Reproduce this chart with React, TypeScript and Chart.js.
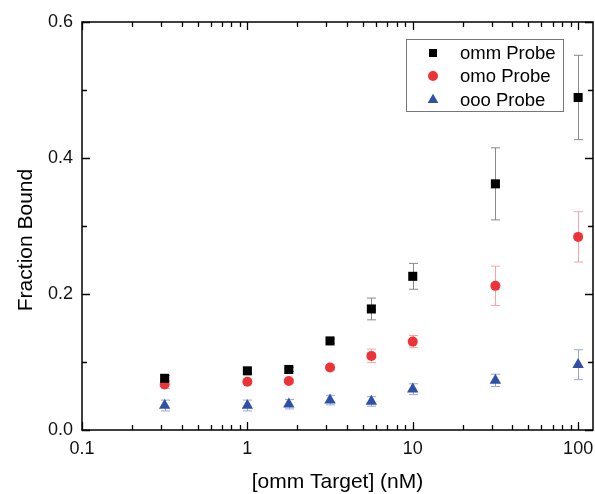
import React, { useEffect, useRef } from "react";
import { Chart, registerables } from "chart.js";

Chart.register(...registerables);

const concentrations = [0.316, 1, 1.78, 3.16, 5.62, 10, 31.6, 100];
const ommValues = [0.076, 0.087, 0.089, 0.131, 0.178, 0.226, 0.362, 0.489];
const ommErrors = [0.004, 0.004, 0.003, 0.003, 0.016, 0.019, 0.053, 0.062];
const omoValues = [0.067, 0.071, 0.072, 0.092, 0.109, 0.13, 0.212, 0.284];
const omoErrors = [0.006, 0.003, 0.003, 0.004, 0.01, 0.009, 0.029, 0.037];
const oooValues = [0.036, 0.036, 0.038, 0.044, 0.042, 0.06, 0.073, 0.096];
const oooErrors = [0.008, 0.008, 0.007, 0.007, 0.007, 0.008, 0.009, 0.022];
const seriesLabels = ["omm Probe", "omo Probe", "ooo Probe"];
const xTickValues = [0.1, 1, 10, 100];
const xTickLabels = ["0.1", "1", "10", "100"];
const yTickValues = [0, 0.2, 0.4, 0.6];
const xTitle = "[omm Target] (nM)";
const yTitle = "Fraction Bound";

const FONT = '"Liberation Sans", Arial, sans-serif';
const colors = ["#000000", "#ee3338", "#3050a8"];
const errColors = ["#8a8a8a", "#f5a3a6", "#98a8d6"];
const styles = ["rect", "circle", "triangle"];
const radii = [6.4, 5, 6.6];

const allValues = [ommValues, omoValues, oooValues];
const allErrors = [ommErrors, omoErrors, oooErrors];

const errorBarPlugin = {
  id: "errorBars",
  beforeDatasetsDraw(chart: any) {
    const { ctx, scales } = chart;
    const xs = scales.x;
    const ys = scales.y;
    ctx.save();
    ctx.lineWidth = 1;
    allValues.forEach((vals, si) => {
      ctx.strokeStyle = errColors[si];
      vals.forEach((v, i) => {
        const e = allErrors[si][i];
        const px = Math.round(xs.getPixelForValue(concentrations[i])) + 0.5;
        const top = ys.getPixelForValue(v + e);
        const bot = ys.getPixelForValue(v - e);
        ctx.beginPath();
        ctx.moveTo(px, top);
        ctx.lineTo(px, bot);
        ctx.moveTo(px - 4.5, top);
        ctx.lineTo(px + 4.5, top);
        ctx.moveTo(px - 4.5, bot);
        ctx.lineTo(px + 4.5, bot);
        ctx.stroke();
      });
    });
    ctx.restore();
  },
};

const framePlugin = {
  id: "frame",
  afterDatasetsDraw(chart: any) {
    const { ctx, chartArea, scales } = chart;
    const { left, right, top, bottom } = chartArea;
    const xs = scales.x;
    const ys = scales.y;
    ctx.save();
    ctx.strokeStyle = "#000";
    ctx.lineWidth = 1.5;
    ctx.strokeRect(left, top, right - left, bottom - top);
    ctx.lineWidth = 1.3;
    ctx.beginPath();
    for (let p = -1; p <= 2; p++) {
      for (let k = 1; k <= 9; k++) {
        const v = k * Math.pow(10, p);
        if (v < 0.1 || v > xs.max) continue;
        const px = Math.round(xs.getPixelForValue(v)) + 0.5;
        const len = k === 1 ? 8 : 5;
        ctx.moveTo(px, bottom);
        ctx.lineTo(px, bottom - len);
        ctx.moveTo(px, top);
        ctx.lineTo(px, top + len);
      }
    }
    for (let j = 0; j <= 6; j++) {
      const v = j / 10;
      const py = Math.round(ys.getPixelForValue(v)) + 0.5;
      const len = j % 2 === 0 ? 8 : 5;
      ctx.moveTo(left, py);
      ctx.lineTo(left + len, py);
      ctx.moveTo(right, py);
      ctx.lineTo(right - len, py);
    }
    ctx.stroke();

    ctx.fillStyle = "#111";
    ctx.font = `18px ${FONT}`;
    ctx.textAlign = "center";
    ctx.textBaseline = "middle";
    xTickValues.forEach((v, i) => {
      ctx.fillText(xTickLabels[i], xs.getPixelForValue(v), 449);
    });

    ctx.fillStyle = "#000";
    ctx.font = `21px ${FONT}`;
    ctx.fillText(xTitle, (left + right) / 2, 482);
    ctx.save();
    ctx.translate(26, 240);
    ctx.rotate(-Math.PI / 2);
    ctx.fillText(yTitle, 0, 0);
    ctx.restore();

    const bx = 406, by = 39, bw = 157, bh = 72;
    ctx.fillStyle = "#fff";
    ctx.fillRect(bx, by, bw, bh);
    ctx.strokeStyle = "#777";
    ctx.lineWidth = 1;
    ctx.strokeRect(bx + 0.5, by + 0.5, bw, bh);
    const rows = [53, 76, 100];
    ctx.font = `18.5px ${FONT}`;
    ctx.textAlign = "left";
    ctx.textBaseline = "middle";
    seriesLabels.forEach((lab, i) => {
      const cy = rows[i];
      const cx = 433;
      ctx.fillStyle = colors[i];
      ctx.beginPath();
      if (i === 0) {
        ctx.rect(cx - 4, cy - 4, 8, 8);
      } else if (i === 1) {
        ctx.arc(cx, cy, 5, 0, Math.PI * 2);
      } else {
        const r = 6.2;
        ctx.moveTo(cx, cy - r);
        ctx.lineTo(cx + r * 0.866, cy + r / 2);
        ctx.lineTo(cx - r * 0.866, cy + r / 2);
        ctx.closePath();
      }
      ctx.fill();
      ctx.fillStyle = "#000";
      ctx.fillText(lab, 460, cy + 1);
    });
    ctx.restore();
  },
};

export default function App() {
  const canvasRef = useRef<HTMLCanvasElement | null>(null);

  useEffect(() => {
    if (!canvasRef.current) return;
    const datasets = allValues.map((vals, si) => ({
      label: seriesLabels[si],
      data: vals.map((v, i) => ({ x: concentrations[i], y: v })),
      showLine: false,
      pointStyle: styles[si],
      pointRadius: radii[si],
      pointBackgroundColor: colors[si],
      pointBorderColor: colors[si],
      pointBorderWidth: 0,
    }));
    const chart = new Chart(canvasRef.current, {
      type: "scatter",
      data: { datasets } as any,
      options: {
        responsive: false,
        animation: false,
        layout: { autoPadding: false, padding: { top: 22, right: 2, left: 0, bottom: 0 } },
        plugins: { legend: { display: false }, tooltip: { enabled: false } },
        scales: {
          x: {
            type: "logarithmic",
            min: 0.1,
            max: 123,
            grid: { display: false, drawTicks: false },
            border: { display: false },
            afterBuildTicks: (s: any) => {
              s.ticks = xTickValues.map((v) => ({ value: v }));
            },
            afterFit: (s: any) => {
              s.height = 64;
            },
            ticks: { display: false },
          },
          y: {
            type: "linear",
            min: 0,
            max: 0.6,
            grid: { display: false, drawTicks: false },
            border: { display: false },
            afterBuildTicks: (s: any) => {
              s.ticks = yTickValues.map((v) => ({ value: v }));
            },
            afterFit: (s: any) => {
              s.width = 82;
            },
            ticks: {
              padding: 9,
              color: "#111",
              font: { family: FONT, size: 18 },
              callback: (v: any) => Number(v).toFixed(1),
            },
          },
        },
      },
      plugins: [errorBarPlugin, framePlugin],
    } as any);
    return () => chart.destroy();
  }, []);

  return (
    <div style={{ position: "absolute", left: 0, top: 0, width: 595, height: 494, background: "#fff" }}>
      <canvas ref={canvasRef} width={595} height={494} style={{ display: "block" }} />
    </div>
  );
}
